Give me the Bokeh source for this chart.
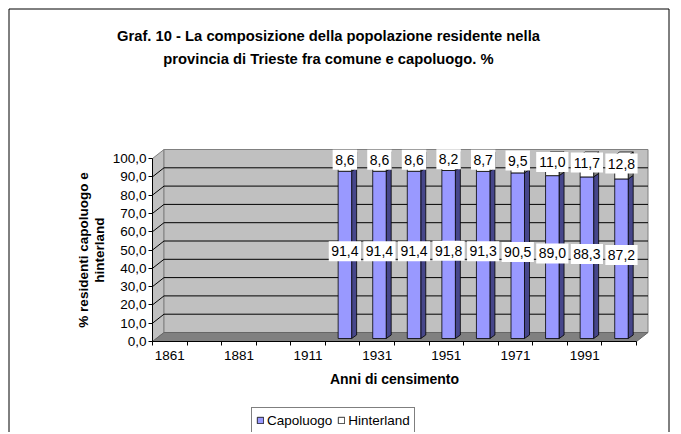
from bokeh.plotting import figure
from bokeh.models import (Range1d, FixedTicker, ColumnDataSource, Label,
                          Legend, LegendItem)
from bokeh.core.properties import value
from bokeh.embed import file_html
from bokeh.resources import INLINE

# ---------------- data ----------------
years = ["1861", "1871", "1881", "1901", "1911", "1921", "1931",
         "1936", "1951", "1961", "1971", "1981", "1991", "2001"]
capoluogo = [None, None, None, None, None, 91.4, 91.4, 91.4, 91.8, 91.3, 90.5, 89.0, 88.3, 87.2]
hinterland = [None, None, None, None, None, 8.6, 8.6, 8.6, 8.2, 8.7, 9.5, 11.0, 11.7, 12.8]
y_ticks = [0, 10, 20, 30, 40, 50, 60, 70, 80, 90, 100]
y_tick_labels = ["0,0", "10,0", "20,0", "30,0", "40,0", "50,0",
                 "60,0", "70,0", "80,0", "90,0", "100,0"]
title_lines = ["Graf. 10 - La composizione della popolazione residente nella",
               "provincia di Trieste fra comune e capoluogo. %"]
series_names = ["Capoluogo", "Hinterland"]

FONT = "Liberation Sans"

# ---------------- layout (pixels) ----------------
W, H = 680, 432
X0, Y0 = 152, 341            # pixel position of the axes origin
N = len(years)
PX_X = 484 / N               # px per category
PX_Y = 183 / 100             # px per percentage unit


def dx(px):
    return (px - X0) / PX_X


def dy(py):
    return (Y0 - py) / PX_Y


DXW, DYW = 11.5 / PX_X, 9 / PX_Y     # wall depth
BDX, BDY = 5 / PX_X, 3.5 / PX_Y      # bar depth
BL, BR = 0.37, 0.76                  # bar front face inside category
BASE = 3 / PX_Y                      # bars stand slightly back on the floor

p = figure(width=W, height=H, x_range=Range1d(dx(0), dx(W)), y_range=Range1d(dy(H), dy(0)),
           output_backend="svg", toolbar_location=None, tools="", title_location=None,
           min_border=0, min_border_left=0, min_border_right=0, min_border_top=0,
           min_border_bottom=0)
p.grid.visible = False
p.outline_line_color = None
p.background_fill_color = "white"
p.border_fill_color = "white"

# outer chart-area frame
p.line([dx(8.5), dx(8.5), dx(668.5), dx(668.5)], [dy(460), dy(8.5), dy(8.5), dy(460)],
       line_color="black", line_width=1)

# walls
p.patch([0, DXW, DXW, 0], [0, DYW, 100 + DYW, 100], fill_color="#C0C0C0", line_color="#808080")
p.quad(left=DXW, right=N + DXW, bottom=DYW, top=100 + DYW, fill_color="#C0C0C0", line_color="#808080")
grid_vals = [t for t in y_ticks if 0 < t < 100]
p.multi_line(xs=[[0, DXW, N + DXW] for _ in grid_vals],
             ys=[[t, t + DYW, t + DYW] for t in grid_vals], line_color="black", line_width=1)
# floor
p.patch([0, N, N + DXW, DXW], [0, 0, DYW, DYW], fill_color="#808080", line_color="#666666")

# bars
idx = [i for i, v in enumerate(capoluogo) if v is not None]
cap = [capoluogo[i] for i in idx]
hin = [hinterland[i] for i in idx]
top_cap = [BASE + c for c in cap]
top_tot = [BASE + c + h for c, h in zip(cap, hin)]
L = [i + BL for i in idx]
R = [i + BR for i in idx]

p.patches(xs=[[r, r + BDX, r + BDX, r] for r in R],
          ys=[[BASE, BASE + BDY, c + BDY, c] for c in top_cap],
          fill_color="#46468A", line_color="black", line_width=0.8)
r_cap = p.quad(left=L, right=R, bottom=BASE, top=top_cap, fill_color="#9999FF",
               line_color="black", line_width=0.8)
p.patches(xs=[[r, r + BDX, r + BDX, r] for r in R],
          ys=[[c, c + BDY, t + BDY, t] for c, t in zip(top_cap, top_tot)],
          fill_color="#808080", line_color="black", line_width=0.8)
r_hin = p.quad(left=L, right=R, bottom=top_cap, top=top_tot, fill_color="white",
               line_color="black", line_width=0.8)
p.patches(xs=[[l, r, r + BDX, l + BDX] for l, r in zip(L, R)],
          ys=[[t, t, t + BDY, t + BDY] for t in top_tot],
          fill_color="white", line_color="black", line_width=0.8)


# data labels
def fmt(v):
    return f"{v:.1f}".replace(".", ",")


def box_w(s):
    return (sum(0.556 if ch.isdigit() else 0.278 for ch in s)) * 14 + 5


LOFF = 2.0
lab_x = [(l + r) / 2 for l, r in zip(L, R)] * 2
lab_y = [BASE + c / 2 + LOFF for c in cap] + [BASE + c + h / 2 + LOFF for c, h in zip(cap, hin)]
lab_t = [fmt(c) for c in cap] + [fmt(h) for h in hin]
src = ColumnDataSource(dict(x=lab_x, y=lab_y, t=lab_t, w=[box_w(s) for s in lab_t]))
p.rect(x="x", y="y", width="w", height=20, width_units="screen", height_units="screen",
       fill_color="white", line_color=None, source=src)
p.text(x="x", y="y", text="t", source=src, text_font=value(FONT), text_font_size="14px",
       text_align="center", text_baseline="middle", text_color="black")

# axes (drawn at the data origin)
yax = p.yaxis[0]
yax.fixed_location = 0
yax.ticker = FixedTicker(ticks=y_ticks)
yax.major_label_overrides = {t: s for t, s in zip(y_ticks, y_tick_labels)}
yax.bounds = (0, 100)
yax.major_tick_in = 0
yax.major_tick_out = 4
yax.minor_tick_line_color = None
yax.major_label_standoff = 2
yax.major_label_text_font = FONT
yax.major_label_text_font_size = "13.5px"
yax.major_label_text_color = "black"
yax.axis_line_color = "black"
yax.major_tick_line_color = "black"
yax.axis_label = "% residenti capoluogo e\nhinterland"
yax.axis_label_text_font = FONT
yax.axis_label_text_font_size = "13.5px"
yax.axis_label_text_font_style = "bold"
yax.axis_label_text_color = "black"
yax.axis_label_text_line_height = 1.05
yax.axis_label_standoff = 3

xax = p.xaxis[0]
xax.fixed_location = 0
label_pos = [i + 0.5 for i in range(0, N, 2)]
xax.ticker = FixedTicker(ticks=label_pos, minor_ticks=list(range(N + 1)))
xax.major_label_overrides = {i + 0.5: years[i] for i in range(0, N, 2)}
xax.bounds = (0, N)
xax.major_tick_line_color = None
xax.major_tick_in = 0
xax.major_tick_out = 4
xax.minor_tick_line_color = "black"
xax.minor_tick_in = 0
xax.minor_tick_out = 4
xax.major_label_standoff = 5
xax.major_label_text_font = FONT
xax.major_label_text_font_size = "13.5px"
xax.major_label_text_color = "black"
xax.axis_line_color = "black"
xax.axis_label = "Anni di censimento"
xax.axis_label_text_font = FONT
xax.axis_label_text_font_size = "14px"
xax.axis_label_text_font_style = "bold"
xax.axis_label_text_color = "black"
xax.axis_label_standoff = 8

# title
for line, py in zip(title_lines, [35, 58]):
    p.add_layout(Label(x=dx(328), y=dy(py), text=line, text_font=FONT, text_font_size="14.75px",
                       text_font_style="bold", text_align="center", text_baseline="middle",
                       text_color="black"))

# legend
legend = Legend(items=[LegendItem(label=series_names[0], renderers=[r_cap]),
                       LegendItem(label=series_names[1], renderers=[r_hin])],
                location=(251, -1), orientation="horizontal",
                border_line_color="black", border_line_width=1, background_fill_color="white",
                background_fill_alpha=1, glyph_width=8, glyph_height=8, label_standoff=3,
                spacing=5, padding=4, margin=0, label_text_font=FONT,
                label_text_font_size="13.5px", label_text_color="black",
                label_height=16)
p.add_layout(legend, "center")

open("out.html", "w").write(file_html(p, INLINE))
